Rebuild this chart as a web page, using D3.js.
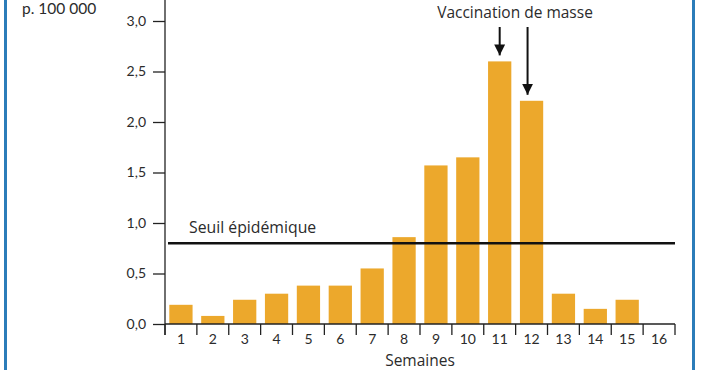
<!DOCTYPE html>
<html>
<head>
<meta charset="utf-8">
<script src="https://cdn.jsdelivr.net/npm/d3@7"></script>
<style>
  html, body { margin: 0; padding: 0; background: #fff; }
  svg { display: block; font-family: "Open Sans", Lato, sans-serif; }
</style>
</head>
<body>
<svg id="chart" width="702" height="370"></svg>
<script>
// weekly incidence per 100 000
const weeks = ['1', '2', '3', '4', '5', '6', '7', '8', '9', '10', '11', '12', '13', '14', '15', '16'];
const rates = [0.19, 0.08, 0.24, 0.30, 0.38, 0.38, 0.55, 0.86, 1.57, 1.65, 2.60, 2.21, 0.30, 0.15, 0.24, 0];
const yTicks = [0, 0.5, 1.0, 1.5, 2.0, 2.5, 3.0];
const threshold = 0.80;
const vaccinationWeeks = ['11', '12'];

const svg = d3.select('#chart');
const plotLeft = 165, plotRight = 675, plotTop = 21, plotBottom = 324;
const textColor = '#2b2b2b';

// blue frame lines left and right
svg.append('rect').attr('x', 4).attr('y', 0).attr('width', 3).attr('height', 370).attr('fill', '#2b7cb9');
svg.append('rect').attr('x', 692).attr('y', 0).attr('width', 3).attr('height', 370).attr('fill', '#2b7cb9');

const x = d3.scaleBand()
    .domain(weeks)
    .range([plotLeft, plotRight])
    .paddingInner(0.27)
    .paddingOuter(0.135);

const y = d3.scaleLinear()
    .domain([0, 3])
    .range([plotBottom, plotTop]);

const fmt = d => d.toFixed(1).replace('.', ',');

// y axis
const yAxis = svg.append('g')
    .attr('transform', 'translate(' + plotLeft + ',0)')
    .call(d3.axisLeft(y).tickValues(yTicks).tickFormat(fmt).tickSize(12).tickPadding(7));
yAxis.select('.domain').remove();
yAxis.selectAll('line').attr('stroke', '#222').attr('stroke-width', 1.3);
yAxis.selectAll('text').attr('fill', textColor).attr('font-size', 14).attr('font-family', 'Lato, sans-serif');

svg.append('line')
    .attr('x1', plotLeft).attr('x2', plotLeft)
    .attr('y1', 0).attr('y2', plotBottom + 11)
    .attr('stroke', '#222').attr('stroke-width', 1.3);

// bars
svg.append('g').selectAll('rect')
    .data(rates)
    .join('rect')
    .attr('x', (d, i) => x(weeks[i]))
    .attr('y', d => y(d))
    .attr('width', x.bandwidth())
    .attr('height', d => y(0) - y(d))
    .attr('fill', '#eca82c');

// x axis
svg.append('line')
    .attr('x1', plotLeft).attr('x2', plotRight)
    .attr('y1', plotBottom).attr('y2', plotBottom)
    .attr('stroke', '#222').attr('stroke-width', 1.3);

const step = x.step();
svg.append('g').selectAll('line')
    .data(d3.range(weeks.length + 1))
    .join('line')
    .attr('x1', i => plotLeft + i * step).attr('x2', i => plotLeft + i * step)
    .attr('y1', plotBottom).attr('y2', plotBottom + 11)
    .attr('stroke', '#222').attr('stroke-width', 1.3);

svg.append('g').selectAll('text')
    .data(weeks)
    .join('text')
    .attr('x', d => x(d) + x.bandwidth() / 2)
    .attr('y', plotBottom + 20)
    .attr('text-anchor', 'middle')
    .attr('fill', textColor)
    .attr('font-size', 14)
    .attr('font-family', 'Lato, sans-serif')
    .text(d => d);

svg.append('text')
    .attr('x', (plotLeft + plotRight) / 2)
    .attr('y', 366)
    .attr('text-anchor', 'middle')
    .attr('fill', textColor)
    .attr('font-size', 15.5)
    .text('Semaines');

svg.append('text')
    .attr('x', 22)
    .attr('y', 14)
    .attr('fill', textColor)
    .attr('font-size', 15.5)
    .attr('font-family', 'Lato, sans-serif')
    .text('p. 100 000');

// epidemic threshold
svg.append('line')
    .attr('x1', plotLeft + 3).attr('x2', plotRight)
    .attr('y1', y(threshold)).attr('y2', y(threshold))
    .attr('stroke', '#111').attr('stroke-width', 2.6);

svg.append('text')
    .attr('x', 189)
    .attr('y', 233)
    .attr('fill', textColor)
    .attr('font-size', 15.8)
    .text('Seuil épidémique');

// mass vaccination arrows
svg.append('text')
    .attr('x', 515)
    .attr('y', 18)
    .attr('text-anchor', 'middle')
    .attr('fill', textColor)
    .attr('font-size', 15.5)
    .text('Vaccination de masse');

svg.append('defs').append('marker')
    .attr('id', 'head')
    .attr('viewBox', '0 0 10 10')
    .attr('refX', 10).attr('refY', 5)
    .attr('markerWidth', 11).attr('markerHeight', 11)
    .attr('markerUnits', 'userSpaceOnUse')
    .attr('orient', 'auto')
    .append('path')
    .attr('d', 'M0,0 L10,5 L0,10 Z')
    .attr('fill', '#111');

const arrowX = [x(vaccinationWeeks[0]) + x.bandwidth() / 2, x(vaccinationWeeks[1]) + x.bandwidth() / 2 - 4];
svg.append('g').selectAll('line')
    .data(vaccinationWeeks)
    .join('line')
    .attr('x1', (d, i) => arrowX[i]).attr('x2', (d, i) => arrowX[i])
    .attr('y1', 27)
    .attr('y2', (d, i) => y(rates[weeks.indexOf(d)]) - 6)
    .attr('stroke', '#111').attr('stroke-width', 2)
    .attr('marker-end', 'url(#head)');
</script>
</body>
</html>
